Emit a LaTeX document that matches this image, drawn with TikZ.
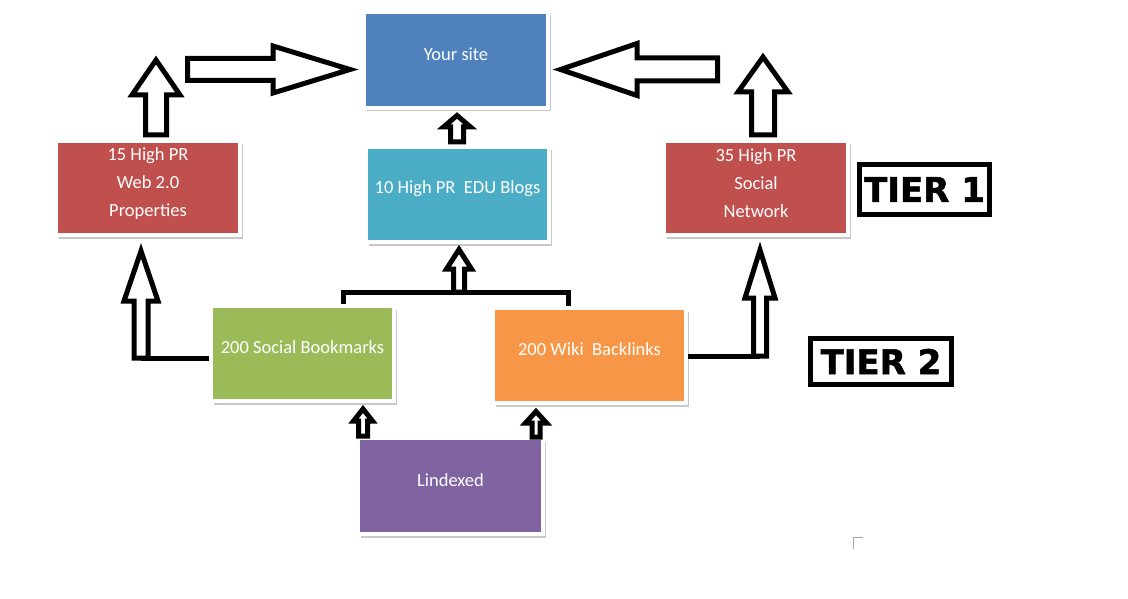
\documentclass[tikz,border=0pt]{standalone}
\usepackage{fontspec}
\setmainfont{Carlito}
\newfontfamily\tierfont{DejaVu Sans}[BoldFeatures={FakeBold=1.6}]
\usetikzlibrary{shadows}

\definecolor{siteblue}{HTML}{4F81BD}
\definecolor{prred}{HTML}{C0504D}
\definecolor{eduteal}{HTML}{4BACC6}
\definecolor{bmgreen}{HTML}{9BBB59}
\definecolor{wikiorange}{HTML}{F79646}
\definecolor{idxpurple}{HTML}{8064A2}

\tikzset{
  box/.style={rectangle, draw=white, line width=4pt, minimum width=184pt, minimum height=94pt,
    drop shadow={shadow xshift=2.5pt, shadow yshift=-3.5pt, fill=black!30, opacity=0.7}},
  txt/.style={text=white, font=\fontsize{18.5}{28}\selectfont, align=center, inner sep=0pt, yshift=#1},
  txt/.default=6pt,
  tier/.style={draw, line width=5pt, inner sep=0pt, font=\tierfont\bfseries\fontsize{34}{40}\selectfont},
  blk/.style={draw, fill=white, line width=5pt, line join=miter},
  link/.style={line width=5pt},
}

% x, bottom, tip, shaft half, head half, head base
\newcommand{\upblk}[6]{%
  \draw[blk] (#1-#4,#2) -- (#1-#4,#6) -- (#1-#5,#6) -- (#1,#3) -- (#1+#5,#6) -- (#1+#4,#6) -- (#1+#4,#2) -- cycle;}
% y, tail, tip, shaft half, head half, head base
\newcommand{\sideblk}[6]{%
  \draw[blk] (#2,#1-#4) -- (#6,#1-#4) -- (#6,#1-#5) -- (#3,#1) -- (#6,#1+#5) -- (#6,#1+#4) -- (#2,#1+#4) -- cycle;}

\begin{document}
\begin{tikzpicture}[x=1pt, y=-1pt]
  \fill[white] (0,0) rectangle (1128,599);

  % tier 1
  \node[box, fill=siteblue, minimum height=96pt, label={[txt]center:{Your site}}] (site) at (456,60) {};
  \node[box, fill=prred, label={[txt=4.5pt]center:{15 High PR\\Web 2.0\\Properties}}] (web) at (148,188) {};
  \node[box, fill=eduteal, minimum width=183pt, minimum height=95pt,
    label={[txt]center:{10 High PR\ \ EDU Blogs}}] (edu) at (457.5,194.5) {};
  \node[box, fill=prred, label={[txt=4.5pt]center:{35 High PR\\Social\\Network}}] (social) at (756,188) {};

  % tier 2
  \node[box, fill=bmgreen, minimum width=183pt, minimum height=95pt,
    label={[txt]center:{200 Social Bookmarks}}] (bkm) at (302.5,353.5) {};
  \node[box, fill=wikiorange, minimum width=193pt, minimum height=95pt,
    label={[txt]center:{200 Wiki\ \ Backlinks}}] (wiki) at (589.5,355.5) {};
  \node[box, fill=idxpurple, minimum width=185pt, minimum height=96pt,
    label={[txt]center:{Lindexed}}] (idx) at (450.5,486) {};

  \node[tier, minimum width=130pt, minimum height=50pt] (tier1) at (924.5,189.5) {TIER 1};
  \node[tier, minimum width=141pt, minimum height=46pt] (tier2) at (881,361.5) {TIER 2};

  % plain links
  \coordinate (lfoot) at (141,358);
  \coordinate (rfoot) at (760,356);
  \coordinate (hub) at (459,292);
  \draw[link] (bkm.west |- lfoot) -- (lfoot);
  \draw[link] (wiki.east |- rfoot) -- (rfoot);
  \draw[link] ([xshift=41pt]bkm.north) |- (hub) -| ([xshift=-21pt]wiki.north);

  % block arrows
  \upblk{156}{135}{60}{10.5}{24}{95}
  \sideblk{69.5}{187.5}{350}{11}{23.5}{273}
  \sideblk{69.5}{717.5}{560.5}{11.5}{26}{637}
  \upblk{763}{135}{57}{11.5}{25}{92}
  \upblk{457}{142}{115.5}{6.5}{13.5}{127}
  \upblk{141}{358}{251}{7}{17}{301}
  \upblk{459}{292}{249.5}{5.5}{12.5}{269}
  \upblk{760}{356}{250}{6.5}{15}{298}
  \upblk{363}{436}{409}{4.5}{9.5}{421}
  \upblk{536}{437}{411.5}{4}{10.5}{423}

  \draw[black!35, line width=1pt] (863,537) -- (853,537) -- (853,549);
\end{tikzpicture}
\end{document}
